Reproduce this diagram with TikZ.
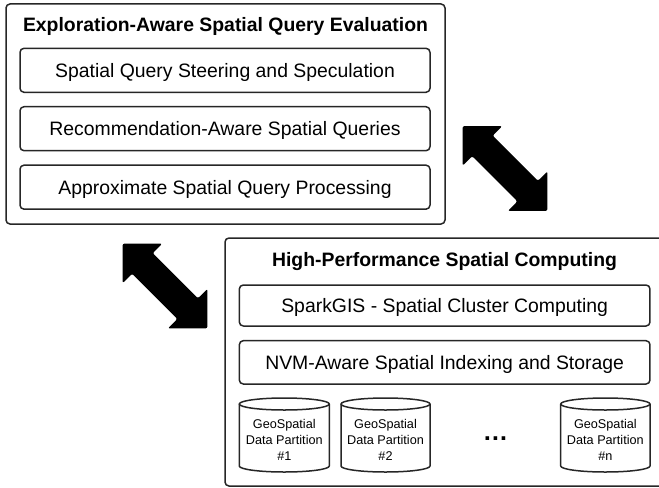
\documentclass[tikz,border=0pt]{standalone}
\usepackage{fontspec}
\setmainfont{Liberation Sans}
\newcommand\partcyl[4]{%
  \draw[cylline] (#1,83) -- (#1,21)
    arc[start angle=180,end angle=360,x radius={(#2-#1)/2},y radius=6]
    -- (#2,83)
    arc[start angle=0,end angle=180,x radius={(#2-#1)/2},y radius=6] -- cycle;
  \draw[cylline] (#1,83) arc[start angle=180,end angle=360,x radius={(#2-#1)/2},y radius=6];
  \node[cyltext] (#3) at ({(#1+#2)/2},47.5) {#4};
}
\newcommand\dblarrow[3]{%
  \fill[arrowfill, shift={(#1,#2)}, rotate=-45]
    (-60,0) -- (-32,28) -- (-32,14.5) -- (32,14.5) -- (32,28) -- (60,0)
    -- (32,-28) -- (32,-14.5) -- (-32,-14.5) -- (-32,-28) -- cycle;
  \coordinate (#3) at (#1,#2);
}
\begin{document}
\begin{tikzpicture}[x=0.75pt,y=0.75pt,line join=round,
  frame/.style={draw=black!85, line width=1.125pt, rounded corners=3pt},
  item/.style={frame, inner sep=0pt, font=\fontsize{14.55pt}{17pt}\selectfont,
    text height=10.4pt, text depth=0pt},
  titletext/.style={anchor=base, font=\bfseries\fontsize{14.55pt}{17pt}\selectfont},
  cylline/.style={draw=black!85, line width=1.125pt, fill=none},
  cyltext/.style={align=center, inner sep=0pt, font=\fontsize{9.5pt}{12pt}\selectfont},
  arrowfill/.style={fill=black, rounded corners=1.5pt}]
\useasboundingbox (0,0) rectangle (659,487);

% top container
\node[frame, minimum width=329.25pt, minimum height=165pt] (eval) at (225.5,373) {};
\node[titletext] (evalT) at (225.5,456) {Exploration-Aware Spatial Query Evaluation};
\node[item, minimum width=307.5pt, minimum height=33pt] (steer) at (225,416.7)
  {Spatial Query Steering and Speculation};
\node[item, minimum width=307.5pt, minimum height=33pt] (recom) at (225,358.3)
  {Recommendation-Aware Spatial Queries};
\node[item, minimum width=307.5pt, minimum height=33pt] (approx) at (225,299.85)
  {Approximate Spatial Query Processing};

% bottom container (open to the right edge)
\draw[frame] (659,249) -- (225,249) -- (225,1) -- (659,1);
\node[titletext] (hpcT) at (444.5,220.5) {High-Performance Spatial Computing};
\node[item, minimum width=308pt, minimum height=30.75pt] (spark) at (444.65,181.5)
  {SparkGIS - Spatial Cluster Computing};
\node[item, minimum width=308pt, minimum height=32.5pt] (nvm) at (444.65,124.65)
  {NVM-Aware Spatial Indexing and Storage};

% partitions
\partcyl{239.3}{329.3}{p1}{GeoSpatial\\Data Partition\\\#1}
\partcyl{341}{430}{p2}{GeoSpatial\\Data Partition\\\#2}
\partcyl{560.7}{650}{pn}{GeoSpatial\\Data Partition\\\#n}
\node[font=\bfseries\fontsize{19pt}{19pt}\selectfont, inner sep=0pt] (dots) at (495.5,48) {…};

% double arrows
\dblarrow{505}{318.5}{arrowR}
\dblarrow{165}{201}{arrowL}
\end{tikzpicture}
\end{document}
